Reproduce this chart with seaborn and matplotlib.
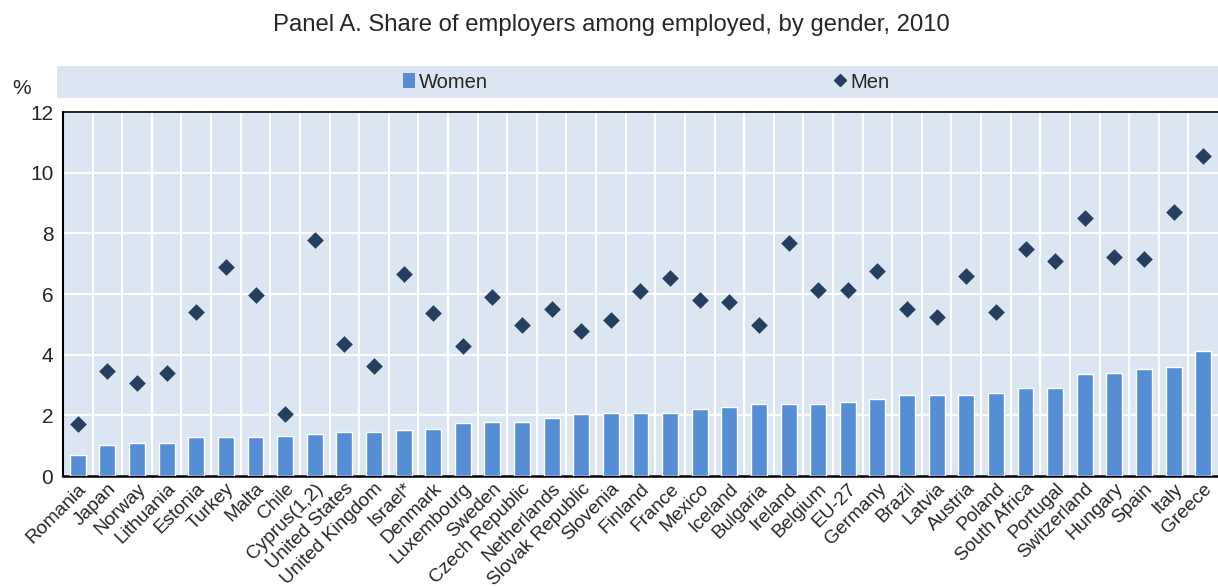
import matplotlib.pyplot as plt
import numpy as np
import seaborn as sns
from matplotlib.lines import Line2D
from matplotlib.patches import Patch, Rectangle


# data (share of employers, %)
countries = [
    'Romania', 'Japan', 'Norway', 'Lithuania', 'Estonia', 'Turkey', 'Malta',
    'Chile', 'Cyprus(1,2)', 'United States', 'United Kingdom', 'Israel*',
    'Denmark', 'Luxembourg', 'Sweden', 'Czech Republic', 'Netherlands',
    'Slovak Republic', 'Slovenia', 'Finland', 'France', 'Mexico', 'Iceland',
    'Bulgaria', 'Ireland', 'Belgium', 'EU-27', 'Germany', 'Brazil', 'Latvia',
    'Austria', 'Poland', 'South Africa', 'Portugal', 'Switzerland', 'Hungary',
    'Spain', 'Italy', 'Greece'
]
women = [
    0.68, 1.03, 1.08, 1.08, 1.27, 1.27, 1.27, 1.32, 1.39, 1.45, 1.45, 1.51,
    1.55, 1.74, 1.78, 1.78, 1.90, 2.03, 2.08, 2.08, 2.08, 2.20, 2.26, 2.37,
    2.37, 2.37, 2.43, 2.55, 2.66, 2.66, 2.66, 2.72, 2.90, 2.90, 3.35, 3.41,
    3.52, 3.58, 4.11
]
men = [
    1.73, 3.46, 3.08, 3.38, 5.42, 6.88, 5.97, 2.06, 7.77, 4.36, 3.62, 6.66,
    5.36, 4.30, 5.89, 4.99, 5.51, 4.77, 5.13, 6.09, 6.54, 5.80, 5.73, 4.99,
    7.67, 6.14, 6.14, 6.75, 5.49, 5.23, 6.59, 5.41, 7.47, 7.08, 8.52, 7.21,
    7.15, 8.69, 10.55
]

bar_color = '#558ed5'
dot_color = '#243f60'
bg_color = '#dce6f2'

sns.set_style('white')
plt.rcParams['font.family'] = ['Liberation Sans', 'DejaVu Sans']

fig = plt.figure(figsize=(12.18, 5.87), dpi=100)
ax = fig.add_axes([63 / 1218, 1 - 476 / 587, 1 - 63 / 1218, 364 / 587])
ax.set_facecolor(bg_color)

sns.barplot(x=countries, y=women, color=bar_color, saturation=1,
            width=0.54, ax=ax, zorder=3)
sns.stripplot(x=countries, y=men, color=dot_color, marker='D', size=8.5,
              jitter=False, linewidth=0, ax=ax, zorder=4)

ax.set_xlim(-0.5, len(countries) - 0.5)
ax.set_ylim(0, 12)
ax.set_yticks(np.arange(0, 13, 2))
ax.set_xticks(np.arange(len(countries)) - 0.5, minor=True)
ax.tick_params(axis='x', which='major', length=0, pad=3)
ax.tick_params(axis='x', which='minor', length=4, width=1.2,
               direction='out', color='black')
ax.tick_params(axis='y', length=4, width=1.2, direction='out',
               labelsize=15, pad=3)
ax.set_xticklabels(countries, rotation=45, ha='right',
                   rotation_mode='anchor', fontsize=13.8)
ax.grid(True, axis='y', color='white', linewidth=1.5, zorder=1)
ax.grid(True, axis='x', which='minor', color='white', linewidth=1.5,
        zorder=1)
ax.set_axisbelow(True)
for side in ['left', 'bottom', 'top']:
    ax.spines[side].set_color('black')
ax.spines['left'].set_linewidth(1.5)
ax.spines['bottom'].set_linewidth(1.8)
ax.spines['top'].set_linewidth(1.2)
ax.spines['right'].set_visible(False)
ax.set_xlabel('')
ax.set_ylabel('')

# legend band
fig.patches.append(Rectangle((57 / 1218, 1 - 98 / 587), 1 - 57 / 1218,
                             32 / 587, transform=fig.transFigure,
                             facecolor=bg_color, edgecolor='none', zorder=0))
handles = [
    Patch(facecolor=bar_color, edgecolor='none', label='Women'),
    Line2D([], [], marker='D', color=dot_color, linestyle='none',
           markersize=6.5, label='Men'),
]
fig.legend(handles=handles, loc='center', ncol=2, frameon=False,
           bbox_to_anchor=(646 / 1218, 1 - 82 / 587), fontsize=14.5,
           handlelength=0.6, handleheight=0.8, handletextpad=0.2,
           columnspacing=17.2)

fig.text(22 / 1218, 1 - 89 / 587, '%', fontsize=15, ha='center',
         va='center')
fig.text(611 / 1218, 1 - 25 / 587,
         'Panel A. Share of employers among employed, by gender, 2010',
         fontsize=17.2, ha='center', va='center')

plt.savefig('out.png', dpi=100)
